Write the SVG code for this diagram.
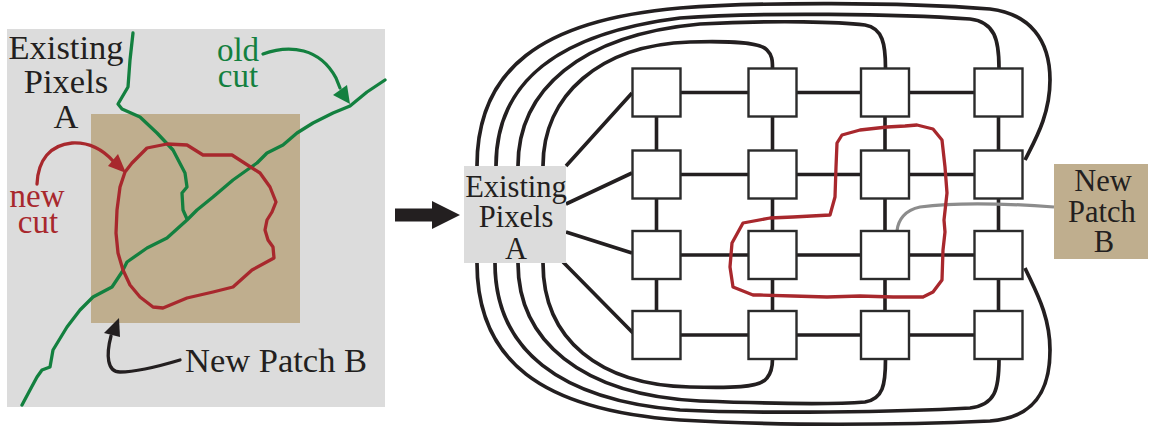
<svg xmlns="http://www.w3.org/2000/svg" width="1149" height="427" viewBox="0 0 1149 427">
  <style>
    text { font-family: 'Liberation Serif', 'Times New Roman', Times, 'DejaVu Serif', serif; }
    .lbl { fill: #231f20; text-anchor: middle; }
    .big { font-size: 34.5px; }
    .mid { font-size: 33px; }
    .sm { font-size: 30.5px; }
    .green { stroke: #13803f; fill: none; stroke-width: 3.3; stroke-linejoin: round; stroke-linecap: round; }
    .red { stroke: #a8282d; fill: none; stroke-width: 3.3; stroke-linejoin: round; stroke-linecap: round; }
    .ink { stroke: #231f20; fill: none; stroke-width: 3.3; stroke-linecap: round; }
    .edge { stroke: #231f20; fill: none; stroke-width: 3.6; }
    .arc { stroke: #231f20; fill: none; stroke-width: 3.7; }
    .px { fill: #ffffff; stroke: #2b2b2b; stroke-width: 2.4; }
    .patch { fill: #bfae8e; }
    .exist { fill: #dcdcdc; }
  </style>

  <!-- Left panel: the two cuts over the overlap region -->
  <g id="overlap-scene">
    <rect class="exist" x="7" y="29" width="378" height="378"/>
    <rect class="patch" x="91" y="114" width="209" height="209"/>

    <!-- old cut -->
    <path class="green" d="M133,33 L130,60 L128,87 L118,104 L122,109 L140,117 L157,133 L173,150 L185,173 L187,187 L182,193 L183,210 L187,219"/>
    <path class="green" d="M385,80 L367,92 L350,106 L333,113 L313,123 L297,133 L283,145 L267,153 L257,163 L247,170 L233,180 L213,197 L197,210 L187,220 L167,238 L147,248 L127,262 L122,272 L112,287 L93,297 L80,310 L67,327 L53,350 L50,367 L42,370 L37,377 L30,390 L22,405"/>

    <!-- new cut -->
    <path class="red" d="M117,210 L120,187 L125,172 L132,163 L147,148 L167,144 L187,145 L203,155 L232,155 L260,173 L270,187 L276,202 L272,212 L267,220 L265,230 L268,240 L273,247 L274,258 L252,270 L233,287 L213,292 L187,298 L163,308 L153,307 L140,297 L130,285 L123,270 L118,253 L116,233 Z"/>

    <!-- label pointers -->
    <path class="green" d="M263,54 C290,44 320,48 336,78 L340,88"/>
    <polygon points="333,95 347,85 350,104" fill="#13803f"/>
    <path class="red" d="M37,184 C38,160 50,145 72,143 C90,142 103,150 113,161"/>
    <polygon points="108,166 118,154 126,173" fill="#a8282d"/>
    <path class="ink" d="M180,360 C160,366 135,372 120,372 C107,372 106,355 111,336"/>
    <polygon points="104,333 120,337 119,318" fill="#231f20"/>

    <text class="lbl big" x="66" y="59" font-family="Liberation Serif, serif">Existing</text>
    <text class="lbl big" x="66" y="93" font-family="Liberation Serif, serif">Pixels</text>
    <text class="lbl big" x="66" y="128" font-family="Liberation Serif, serif">A</text>
    <text class="lbl mid" x="238" y="61" font-family="Liberation Serif, serif" style="fill:#13803f">old</text>
    <text class="lbl mid" x="238" y="87" font-family="Liberation Serif, serif" style="fill:#13803f">cut</text>
    <text class="lbl mid" x="37" y="207" font-family="Liberation Serif, serif" style="fill:#a8282d">new</text>
    <text class="lbl mid" x="38" y="233" font-family="Liberation Serif, serif" style="fill:#a8282d">cut</text>
    <text class="lbl big" x="276" y="372" font-family="Liberation Serif, serif">New Patch B</text>
  </g>

  <!-- Transition arrow -->
  <g id="step-arrow">
    <polygon points="395,208.5 432,208.5 432,201 460,215 432,229 432,221.5 395,221.5" fill="#231f20"/>
  </g>

  <!-- Graph connectors -->
  <g id="connectors">
    <!-- arcs over the top from A to the top row / right column -->
    <path class="arc" d="M477,166 C477,70 540,20 680,8 C760,2 900,2 990,9 C1030,14 1050,40 1050,80 C1050,115 1035,140 1025,160"/>
    <path class="arc" d="M496,166 C496,80 560,33 680,18 C760,12 900,14 970,19 C995,22 999,40 999,68"/>
    <path class="arc" d="M518,166 C518,90 580,35 700,24 C780,20 840,22 865,25 C883,28 885.5,45 885.5,68"/>
    <path class="arc" d="M543,166 C543,95 600,45 690,42 C730,41 760,42 767,50 C772,55 772.5,60 772.5,68"/>
    <!-- arcs under the bottom -->
    <path class="arc" d="M477,263 C477,360 540,410 680,420 C780,426 900,425 990,421 C1035,418 1050,390 1050,350 C1050,315 1035,290 1025,268"/>
    <path class="arc" d="M495,263 C495,350 560,400 680,410 C760,414 900,412 970,408 C995,405 999,390 999,359"/>
    <path class="arc" d="M518,263 C518,340 580,395 700,401 C780,404 840,404 865,402 C883,399 885.5,385 885.5,359"/>
    <path class="arc" d="M543,263 C543,340 600,385 690,387 C730,388 760,388 767,378 C772,372 772.5,366 772.5,359"/>
    <!-- straight links from A to the first column -->
    <path class="edge" d="M566,166 L632,93 M566,204 L632,173 M566,232 L632,253 M563,262 L633,333"/>
    <!-- grid rows -->
    <path class="edge" d="M680.5,92.5 H748.5 M796.5,92.5 H861 M909,92.5 H974.5
                          M680.5,174.5 H748.5 M796.5,174.5 H861 M909,174.5 H974.5
                          M680.5,255 H748.5 M796.5,255 H861 M909,255 H974.5
                          M680.5,335 H748.5 M793,335 H861 M909,335 H974.5"/>
    <!-- grid columns -->
    <path class="edge" d="M656.5,116.5 V150.5 M656.5,198.5 V231 M656.5,279 V311
                          M772.5,116.5 V150.5 M772.5,198.5 V231 M772.5,279 V311
                          M885,116.5 V150.5 M885,198.5 V231 M885,279 V311
                          M998.5,116.5 V150.5 M998.5,198.5 V231 M998.5,279 V311"/>
    <!-- link from B -->
    <path d="M1054,207 C1000,203 950,203 920,207 C905,210 898,220 897,231" fill="none" stroke="#8c8c8c" stroke-width="3.2"/>
  </g>

  <!-- Source node A -->
  <g id="node-A">
    <rect class="exist" x="464" y="166" width="102" height="97"/>
    <text class="lbl sm" x="516" y="197" font-family="Liberation Serif, serif">Existing</text>
    <text class="lbl sm" x="516" y="227" font-family="Liberation Serif, serif">Pixels</text>
    <text class="lbl sm" x="516" y="259" font-family="Liberation Serif, serif">A</text>
  </g>

  <!-- Sink node B -->
  <g id="node-B">
    <rect class="patch" x="1054" y="164" width="94" height="95"/>
    <text class="lbl sm" x="1103" y="191" font-family="Liberation Serif, serif">New</text>
    <text class="lbl sm" x="1102" y="222" font-family="Liberation Serif, serif">Patch</text>
    <text class="lbl sm" x="1104" y="252" font-family="Liberation Serif, serif">B</text>
  </g>

  <!-- Pixel nodes -->
  <g id="px-1-1"><rect class="px" x="632.5" y="68.5" width="48" height="48"/></g>
  <g id="px-1-2"><rect class="px" x="748.5" y="68.5" width="48" height="48"/></g>
  <g id="px-1-3"><rect class="px" x="861" y="68.5" width="48" height="48"/></g>
  <g id="px-1-4"><rect class="px" x="974.5" y="68.5" width="48" height="48"/></g>
  <g id="px-2-1"><rect class="px" x="632.5" y="150.5" width="48" height="48"/></g>
  <g id="px-2-2"><rect class="px" x="748.5" y="150.5" width="48" height="48"/></g>
  <g id="px-2-3"><rect class="px" x="861" y="150.5" width="48" height="48"/></g>
  <g id="px-2-4"><rect class="px" x="974.5" y="150.5" width="48" height="48"/></g>
  <g id="px-3-1"><rect class="px" x="632.5" y="231" width="48" height="48"/></g>
  <g id="px-3-2"><rect class="px" x="748.5" y="231" width="48" height="48"/></g>
  <g id="px-3-3"><rect class="px" x="861" y="231" width="48" height="48"/></g>
  <g id="px-3-4"><rect class="px" x="974.5" y="231" width="48" height="48"/></g>
  <g id="px-4-1"><rect class="px" x="632.5" y="311" width="48" height="48"/></g>
  <g id="px-4-2"><rect class="px" x="748.5" y="311" width="48" height="48"/></g>
  <g id="px-4-3"><rect class="px" x="861" y="311" width="48" height="48"/></g>
  <g id="px-4-4"><rect class="px" x="974.5" y="311" width="48" height="48"/></g>

  <!-- The cut through the graph -->
  <g id="graph-cut">
    <path class="red" d="M837,143 L842,135 L860,130 L887,127 L905,126 L917,125 L933,129 L942,140 L945,167 L947,193 L944,220 L945,232 L943,250 L942,280 L933,292 L923,297 L893,297 L860,296 L827,297 L793,296 L760,295 L753,295 L733,287 L730,267 L732,243 L743,223 L770,218 L793,217 L830,215 L835,197 L836,167 Z"/>
  </g>
</svg>
